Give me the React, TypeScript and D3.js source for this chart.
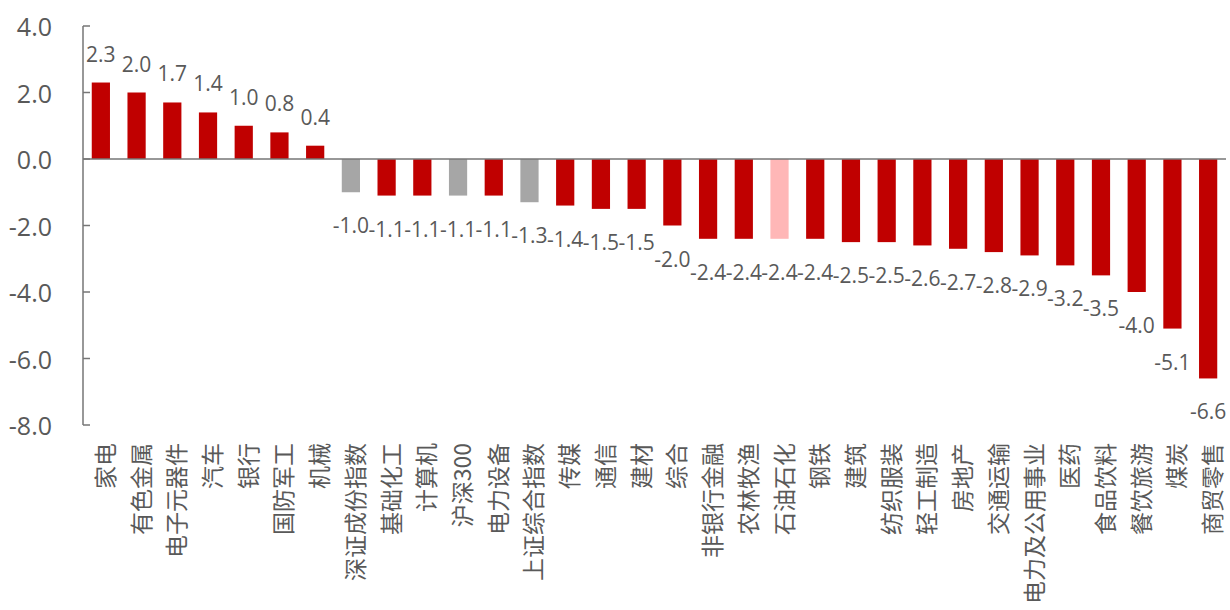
import React from "react";
import * as d3 from "d3";

// 行业周涨跌幅（%）
const categories: string[] = [
  "家电", "有色金属", "电子元器件", "汽车", "银行", "国防军工", "机械",
  "深证成份指数", "基础化工", "计算机", "沪深300", "电力设备", "上证综合指数",
  "传媒", "通信", "建材", "综合", "非银行金融", "农林牧渔", "石油石化",
  "钢铁", "建筑", "纺织服装", "轻工制造", "房地产", "交通运输",
  "电力及公用事业", "医药", "食品饮料", "餐饮旅游", "煤炭", "商贸零售",
];

const values: number[] = [
  2.3, 2.0, 1.7, 1.4, 1.0, 0.8, 0.4,
  -1.0, -1.1, -1.1, -1.1, -1.1, -1.3,
  -1.4, -1.5, -1.5, -2.0, -2.4, -2.4, -2.4,
  -2.4, -2.5, -2.5, -2.6, -2.7, -2.8,
  -2.9, -3.2, -3.5, -4.0, -5.1, -6.6,
];

// 指数类为灰色，石油石化为浅红色，其余行业为深红色
const indexNames: string[] = ["深证成份指数", "沪深300", "上证综合指数"];
const highlightNames: string[] = ["石油石化"];

const yTicks: number[] = [4, 2, 0, -2, -4, -6, -8];

const W = 1230;
const H = 610;
const left = 83;
const right = 1226;
const top = 26;
const bottom = 425;

const RED = "#C00000";
const GREY = "#A6A6A6";
const PINK = "#FFB7B7";
const TEXT = "#595959";
const AXIS = "#767676";
const NUM_FONT = "'Open Sans', 'Noto Sans', sans-serif";
const CJK_FONT = "'Noto Sans CJK SC', sans-serif";

export default function App() {
  const x = d3
    .scaleBand<string>()
    .domain(categories)
    .range([left, right])
    .paddingInner(0.49)
    .paddingOuter(0.245);
  const y = d3.scaleLinear().domain([-8, 4]).range([bottom, top]);
  const y0 = y(0);

  const colorOf = (name: string) =>
    indexNames.includes(name) ? GREY : highlightNames.includes(name) ? PINK : RED;

  return (
    <svg
      width={W}
      height={H}
      style={{ position: "absolute", left: 0, top: 0, background: "#fff" }}
    >
      {/* 柱形 */}
      {categories.map((c, i) => {
        const v = values[i];
        const y1 = y(v);
        return (
          <rect
            key={c}
            x={x(c)!}
            y={Math.min(y0, y1)}
            width={x.bandwidth()}
            height={Math.abs(y1 - y0)}
            fill={colorOf(c)}
          />
        );
      })}

      {/* 纵轴 */}
      <line x1={left} x2={left} y1={top} y2={bottom} stroke={AXIS} strokeWidth={1.5} />
      {yTicks.map((t) => (
        <g key={t}>
          <line x1={left} x2={left + 7} y1={y(t)} y2={y(t)} stroke={AXIS} strokeWidth={1.5} />
          <text
            x={52}
            y={y(t)}
            textAnchor="end"
            dominantBaseline="central"
            fontFamily={NUM_FONT}
            fontSize={25}
            fill={TEXT}
          >
            {t.toFixed(1)}
          </text>
        </g>
      ))}

      {/* 零轴 */}
      <line x1={left} x2={right} y1={y0} y2={y0} stroke={AXIS} strokeWidth={1.5} />

      {/* 数据标签 */}
      {categories.map((c, i) => {
        const v = values[i];
        const cx = x(c)! + x.bandwidth() / 2;
        const ty = v >= 0 ? y(v) - 21 : y(v) + 41;
        return (
          <text
            key={"v" + c}
            x={cx}
            y={ty}
            textAnchor="middle"
            fontFamily={NUM_FONT}
            fontSize={21}
            fill={TEXT}
          >
            {v.toFixed(1)}
          </text>
        );
      })}

      {/* 行业名称 */}
      {categories.map((c) => {
        const cx = x(c)! + x.bandwidth() / 2 + 3;
        return (
          <text
            key={"c" + c}
            transform={`translate(${cx},443) rotate(-90)`}
            textAnchor="end"
            dominantBaseline="central"
            fontFamily={CJK_FONT}
            fontSize={23}
            fill={TEXT}
          >
            {c}
          </text>
        );
      })}
    </svg>
  );
}
